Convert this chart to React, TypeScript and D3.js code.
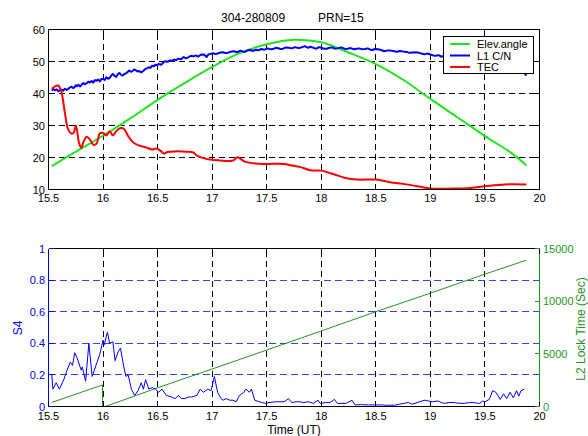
import React from 'react';
import * as d3 from 'd3';

type P = [number, number];

const xTicks = [15.5, 16, 16.5, 17, 17.5, 18, 18.5, 19, 19.5, 20];
const topYTicks = [10, 20, 30, 40, 50, 60];
const s4Ticks = [0, 0.2, 0.4, 0.6, 0.8, 1];
const lockTicks = [0, 5000, 10000, 15000];
const legendLabels = ['Elev.angle', 'L1 C/N', 'TEC'];
const titleLeft = '304-280809';
const titleRight = 'PRN=15';

const elevAngle: P[] = [
  [15.53, 17.3], [15.75, 21.8], [16.0, 26.8], [16.25, 32.2], [16.5, 38.0], [16.75, 43.3],
  [17.0, 48.3], [17.25, 52.6], [17.5, 55.4], [17.75, 56.8], [18.0, 56.0], [18.25, 52.8],
  [18.5, 49.2], [18.75, 44.3], [19.0, 38.3], [19.25, 32.5], [19.5, 26.7], [19.75, 21.2], [19.88, 17.5],
];

const l1cn: P[] = [
  [15.53, 40.9], [15.545, 41.4], [15.56, 41.0], [15.575, 41.3], [15.59, 40.7], [15.605, 41.1],
  [15.62, 41.2], [15.635, 40.9], [15.65, 41.5], [15.665, 41.1], [15.68, 41.4], [15.695, 41.9],
  [15.71, 42.1], [15.725, 41.7], [15.74, 42.0], [15.75, 42.6], [15.76, 42.3], [15.775, 42.7],
  [15.79, 42.2], [15.805, 42.8], [15.82, 43.3], [15.835, 42.9], [15.85, 43.2], [15.865, 43.7],
  [15.88, 43.4], [15.895, 43.9], [15.91, 43.4], [15.925, 44.2], [15.94, 44.0], [15.955, 44.4],
  [15.97, 43.8], [15.985, 44.5], [16.0, 44.6], [16.015, 44.2], [16.03, 45.1], [16.045, 44.6],
  [16.06, 44.9], [16.075, 45.6], [16.09, 46.1], [16.105, 45.5], [16.12, 45.2], [16.135, 46.0],
  [16.15, 46.4], [16.165, 45.8], [16.18, 45.6], [16.195, 46.1], [16.21, 46.3], [16.225, 46.7],
  [16.24, 47.2], [16.255, 46.8], [16.27, 47.0], [16.285, 47.5], [16.3, 47.3], [16.315, 46.9],
  [16.33, 47.0], [16.35, 46.6], [16.37, 47.1], [16.39, 47.7], [16.405, 47.9], [16.42, 48.2],
  [16.435, 48.0], [16.45, 48.7], [16.465, 48.5], [16.48, 49.0], [16.495, 48.8], [16.51, 49.3],
  [16.525, 49.0], [16.54, 49.2], [16.555, 49.8], [16.57, 50.1], [16.59, 49.9], [16.61, 50.3],
  [16.63, 50.2], [16.65, 50.6], [16.67, 50.4], [16.69, 50.9], [16.715, 50.7], [16.74, 51.4],
  [16.76, 51.0], [16.78, 51.3], [16.805, 51.8], [16.83, 51.6], [16.85, 51.9], [16.87, 51.5],
  [16.895, 52.1], [16.92, 52.2], [16.935, 51.9], [16.95, 51.4], [16.96, 52.0], [16.97, 52.3],
  [16.99, 52.4], [17.01, 52.6], [17.03, 52.3], [17.05, 52.5], [17.075, 52.8], [17.1, 52.9],
  [17.125, 52.6], [17.15, 52.8], [17.175, 53.1], [17.2, 53.2], [17.23, 52.9], [17.26, 53.4],
  [17.28, 53.1], [17.3, 53.0], [17.325, 53.5], [17.35, 53.6], [17.375, 53.3], [17.4, 53.7],
  [17.425, 53.5], [17.45, 53.9], [17.48, 53.7], [17.51, 54.1], [17.535, 53.8], [17.56, 53.9],
  [17.58, 54.3], [17.6, 54.2], [17.625, 53.9], [17.65, 54.0], [17.675, 54.4], [17.7, 54.3],
  [17.73, 54.1], [17.76, 54.5], [17.78, 54.3], [17.8, 54.2], [17.825, 54.5], [17.85, 54.8],
  [17.865, 54.5], [17.88, 54.3], [17.9, 54.6], [17.92, 54.4], [17.94, 54.1], [17.96, 54.1],
  [17.98, 54.5], [18.0, 54.3], [18.025, 54.0], [18.05, 54.0], [18.075, 54.3], [18.1, 54.4],
  [18.125, 54.0], [18.15, 54.1], [18.175, 54.4], [18.2, 54.2], [18.22, 53.9], [18.24, 54.0],
  [18.27, 54.2], [18.3, 53.8], [18.325, 54.0], [18.35, 54.1], [18.375, 53.8], [18.4, 53.9],
  [18.425, 54.1], [18.45, 53.7], [18.47, 53.6], [18.49, 53.9], [18.52, 53.8], [18.55, 53.6],
  [18.575, 53.2], [18.6, 53.4], [18.635, 53.4], [18.67, 53.2], [18.695, 53.0], [18.72, 53.3],
  [18.75, 53.1], [18.78, 53.0], [18.81, 52.7], [18.84, 52.8], [18.87, 52.9], [18.9, 52.7],
  [18.925, 52.4], [18.95, 52.3], [18.975, 52.5], [19.0, 52.2], [19.025, 51.9], [19.05, 51.8],
  [19.075, 52.0], [19.1, 51.5], [19.125, 51.8], [19.15, 51.6],
  [19.3, 51.0], [19.5, 50.2], [19.7, 49.0], [19.8, 48.0], [19.85, 47.0], [19.88, 45.6],
];

const tec: P[] = [
  [15.53, 41.5], [15.56, 42.2], [15.59, 42.5], [15.62, 40.2], [15.65, 34.0], [15.68, 28.8],
  [15.71, 27.5], [15.73, 27.7], [15.75, 30.0], [15.76, 28.8], [15.78, 24.6], [15.8, 23.0],
  [15.82, 24.8], [15.85, 26.5], [15.88, 25.6], [15.91, 24.0], [15.94, 24.3], [15.97, 27.5],
  [16.0, 27.7], [16.03, 26.9], [16.06, 28.2], [16.09, 26.9], [16.12, 28.2], [16.16, 29.2],
  [16.19, 29.0], [16.23, 26.7], [16.28, 24.6], [16.33, 23.75], [16.39, 23.2], [16.45, 22.5],
  [16.49, 22.8], [16.53, 22.0], [16.56, 21.25], [16.59, 21.7], [16.65, 21.9], [16.77, 21.8],
  [16.83, 21.5], [16.86, 20.6], [16.92, 19.8], [16.98, 19.4], [17.07, 19.1], [17.16, 18.9],
  [17.2, 19.2], [17.23, 20.1], [17.26, 19.6], [17.3, 18.7], [17.4, 18.1], [17.5, 18.0],
  [17.66, 18.0], [17.72, 17.6], [17.81, 17.0], [17.9, 16.0], [18.0, 15.9], [18.12, 14.7],
  [18.22, 13.6], [18.33, 13.1], [18.5, 13.1], [18.63, 12.3], [18.78, 11.6], [18.93, 10.7],
  [19.0, 10.3], [19.24, 10.3], [19.37, 10.5], [19.5, 11.0], [19.68, 11.6], [19.88, 11.6],
];

const s4: P[] = [
  [15.53, 0.2], [15.54, 0.11], [15.57, 0.15], [15.6, 0.11], [15.64, 0.17], [15.67, 0.23],
  [15.7, 0.28], [15.72, 0.26], [15.74, 0.34], [15.76, 0.31], [15.8, 0.23], [15.81, 0.25],
  [15.84, 0.16], [15.87, 0.4], [15.9, 0.19], [15.93, 0.25], [15.97, 0.33], [16.0, 0.42],
  [16.01, 0.39], [16.04, 0.47], [16.06, 0.4], [16.09, 0.41], [16.11, 0.29], [16.14, 0.35],
  [16.16, 0.37], [16.19, 0.25], [16.21, 0.19], [16.23, 0.2], [16.26, 0.11], [16.29, 0.07],
  [16.32, 0.1], [16.35, 0.15], [16.37, 0.11], [16.39, 0.17], [16.42, 0.11], [16.45, 0.12],
  [16.48, 0.11], [16.51, 0.09], [16.54, 0.11], [16.58, 0.07], [16.63, 0.06], [16.66, 0.05],
  [16.69, 0.07], [16.72, 0.05], [16.75, 0.05], [16.78, 0.06], [16.81, 0.06], [16.86, 0.07],
  [16.89, 0.11], [16.92, 0.09], [16.96, 0.11], [16.99, 0.1], [17.02, 0.19], [17.05, 0.09],
  [17.08, 0.05], [17.1, 0.04], [17.13, 0.05], [17.16, 0.04], [17.19, 0.04], [17.22, 0.03],
  [17.25, 0.07], [17.29, 0.09], [17.31, 0.11], [17.34, 0.09], [17.36, 0.11], [17.39, 0.04],
  [17.43, 0.03], [17.46, 0.025], [17.49, 0.02], [17.52, 0.025], [17.58, 0.03], [17.62, 0.03],
  [17.66, 0.03], [17.7, 0.05], [17.73, 0.025], [17.77, 0.03], [17.8, 0.03], [17.84, 0.025],
  [17.88, 0.03], [17.93, 0.02], [17.97, 0.04], [17.99, 0.02], [18.04, 0.025], [18.08, 0.025],
  [18.12, 0.045], [18.15, 0.018], [18.19, 0.02], [18.23, 0.02], [18.28, 0.04], [18.31, 0.01],
  [18.36, 0.012], [18.43, 0.01], [18.5, 0.01], [18.55, 0.01], [18.6, 0.008], [18.67, 0.008],
  [18.72, 0.015], [18.76, 0.02], [18.8, 0.025], [18.83, 0.015], [18.86, 0.02], [18.9, 0.03],
  [18.95, 0.04], [18.98, 0.035], [19.02, 0.03], [19.07, 0.035], [19.1, 0.025], [19.13, 0.02],
  [19.17, 0.025], [19.22, 0.025], [19.26, 0.02], [19.31, 0.02], [19.36, 0.025], [19.4, 0.025],
  [19.43, 0.02], [19.45, 0.02], [19.48, 0.035], [19.5, 0.03], [19.54, 0.045], [19.57, 0.1],
  [19.6, 0.09], [19.64, 0.045], [19.67, 0.08], [19.7, 0.05], [19.73, 0.09], [19.76, 0.055],
  [19.79, 0.1], [19.81, 0.065], [19.83, 0.1], [19.86, 0.11],
];

const lockTime: P[] = [
  [15.53, 380], [15.995, 2050], [15.995, 0], [16.02, 0], [16.5, 1780], [17.0, 3560],
  [17.5, 5360], [18.0, 7170], [18.5, 9000], [19.0, 10760], [19.5, 12570], [19.88, 13890],
];

const FONT = '"Liberation Sans", Arial, Helvetica, sans-serif';
const GREEN_TOP = '#1ee61e';
const BLUE = '#0000ff';
const RED = '#ff0000';
const LOCK_GREEN = '#239523';
const GRID_BLUE = '#3c3cff';

export default function App() {
  const x = d3.scaleLinear().domain([15.5, 20]).range([48.5, 539.5]);
  const yTop = d3.scaleLinear().domain([10, 60]).range([189.5, 29.5]);
  const yS4 = d3.scaleLinear().domain([0, 1]).range([406.5, 248.5]);
  const yLock = d3.scaleLinear().domain([0, 15000]).range([406.5, 248.5]);

  const lineTop = d3.line<P>().x(d => x(d[0])).y(d => yTop(d[1]));
  const lineTopSmooth = d3.line<P>().x(d => x(d[0])).y(d => yTop(d[1])).curve(d3.curveCatmullRom);
  const lineS4 = d3.line<P>().x(d => x(d[0])).y(d => yS4(d[1]));
  const lineLock = d3.line<P>().x(d => x(d[0])).y(d => yLock(d[1]));

  const [tx0, tx1] = x.range();
  const tickLen = 5;
  const fmtX = (v: number) => String(v);

  return (
    <svg width={588} height={436} style={{ position: 'absolute', left: 0, top: 0, background: '#fff' }}
      fontFamily={FONT}>
      <rect x={0} y={0} width={588} height={436} fill="#fff" />
      {/* Title */}
      <text x={221} y={22} fontSize={12} fill="#000">{titleLeft}</text>
      <text x={318} y={22} fontSize={12} fill="#000">{titleRight}</text>

      {/* ===== TOP PLOT ===== */}
      <g shapeRendering="crispEdges">
        {xTicks.slice(1, -1).map(t => (
          <line key={'tv' + t} x1={x(t)} x2={x(t)} y1={yTop(10)} y2={yTop(60)} stroke="#000" strokeDasharray="6,4" />
        ))}
        {topYTicks.slice(1, -1).map(t => (
          <line key={'th' + t} x1={tx0} x2={tx1} y1={yTop(t)} y2={yTop(t)} stroke="#000" strokeDasharray="6,4" />
        ))}
      </g>
      <path d={lineTopSmooth(elevAngle) || ''} fill="none" stroke={GREEN_TOP} strokeWidth={2} />
      <path d={lineTop(l1cn) || ''} fill="none" stroke={BLUE} strokeWidth={2} strokeLinejoin="round" />
      <path d={lineTopSmooth(tec) || ''} fill="none" stroke={RED} strokeWidth={2} strokeLinejoin="round" />
      <g shapeRendering="crispEdges">
        <rect x={tx0} y={yTop(60)} width={tx1 - tx0} height={yTop(10) - yTop(60)} fill="none" stroke="#000" />
        {xTicks.map(t => (
          <g key={'tt' + t}>
            <line x1={x(t)} x2={x(t)} y1={yTop(10)} y2={yTop(10) - tickLen} stroke="#000" />
            <line x1={x(t)} x2={x(t)} y1={yTop(60)} y2={yTop(60) + tickLen} stroke="#000" />
          </g>
        ))}
        {topYTicks.map(t => (
          <g key={'ty' + t}>
            <line x1={tx0} x2={tx0 + tickLen} y1={yTop(t)} y2={yTop(t)} stroke="#000" />
            <line x1={tx1} x2={tx1 - tickLen} y1={yTop(t)} y2={yTop(t)} stroke="#000" />
          </g>
        ))}
      </g>
      {xTicks.map(t => (
        <text key={'txl' + t} x={x(t)} y={202} fontSize={11} textAnchor="middle" fill="#000">{fmtX(t)}</text>
      ))}
      {topYTicks.map(t => (
        <text key={'tyl' + t} x={45} y={yTop(t) + 4} fontSize={11} textAnchor="end" fill="#000">{t}</text>
      ))}

      {/* Legend */}
      <g>
        <rect x={443.5} y={36.5} width={90} height={37} fill="#fff" stroke="#000" shapeRendering="crispEdges" />
        {legendLabels.map((lab, i) => {
          const cy = 44 + i * 11.5;
          const col = [GREEN_TOP, BLUE, RED][i];
          return (
            <g key={lab}>
              <line x1={450} x2={470} y1={cy} y2={cy} stroke={col} strokeWidth={2} />
              <text x={477} y={cy + 4} fontSize={11} fill="#000">{lab}</text>
            </g>
          );
        })}
      </g>

      {/* ===== BOTTOM PLOT ===== */}
      <g shapeRendering="crispEdges">
        {xTicks.slice(1, -1).map(t => (
          <line key={'bv' + t} x1={x(t)} x2={x(t)} y1={yS4(0)} y2={yS4(1)} stroke="#000" strokeDasharray="6,4" />
        ))}
        {s4Ticks.slice(1, -1).map(t => (
          <line key={'bh' + t} x1={tx0} x2={tx1} y1={yS4(t)} y2={yS4(t)} stroke={GRID_BLUE} strokeDasharray="7,4" />
        ))}
      </g>
      <path d={lineLock(lockTime) || ''} fill="none" stroke={LOCK_GREEN} strokeWidth={1} />
      <path d={lineS4(s4) || ''} fill="none" stroke={BLUE} strokeWidth={1} strokeLinejoin="round" />
      <g shapeRendering="crispEdges">
        <line x1={tx0} x2={tx1} y1={yS4(1)} y2={yS4(1)} stroke="#000" />
        <line x1={tx0} x2={tx1} y1={yS4(0)} y2={yS4(0)} stroke="#000" />
        <line x1={tx0} x2={tx0} y1={yS4(0)} y2={yS4(1)} stroke={BLUE} />
        <line x1={tx1} x2={tx1} y1={yS4(0)} y2={yS4(1)} stroke={LOCK_GREEN} />
        {xTicks.map(t => (
          <g key={'bt' + t}>
            <line x1={x(t)} x2={x(t)} y1={yS4(0)} y2={yS4(0) - tickLen} stroke="#000" />
            <line x1={x(t)} x2={x(t)} y1={yS4(1)} y2={yS4(1) + tickLen} stroke="#000" />
          </g>
        ))}
        {s4Ticks.map(t => (
          <line key={'bs' + t} x1={tx0} x2={tx0 + tickLen} y1={yS4(t)} y2={yS4(t)} stroke={BLUE} />
        ))}
        {lockTicks.map(t => (
          <line key={'bl' + t} x1={tx1} x2={tx1 - tickLen} y1={yLock(t)} y2={yLock(t)} stroke={LOCK_GREEN} />
        ))}
      </g>
      {xTicks.map(t => (
        <text key={'bxl' + t} x={x(t)} y={420} fontSize={11} textAnchor="middle" fill="#000">{fmtX(t)}</text>
      ))}
      {s4Ticks.map(t => (
        <text key={'bsl' + t} x={45} y={yS4(t) + 4} fontSize={11} textAnchor="end" fill={BLUE}>{String(t)}</text>
      ))}
      {lockTicks.map(t => (
        <text key={'bll' + t} x={543} y={yLock(t) + 4} fontSize={11} textAnchor="start" fill={LOCK_GREEN}>{String(t)}</text>
      ))}
      <text x={294} y={434} fontSize={12} textAnchor="middle" fill="#000">Time (UT)</text>
      <text transform="translate(22,328) rotate(-90)" fontSize={12} textAnchor="middle" fill={BLUE}>S4</text>
      <text transform="translate(584.5,329) rotate(-90)" fontSize={12} textAnchor="middle" fill={LOCK_GREEN}>L2 Lock Time (Sec)</text>
    </svg>
  );
}
